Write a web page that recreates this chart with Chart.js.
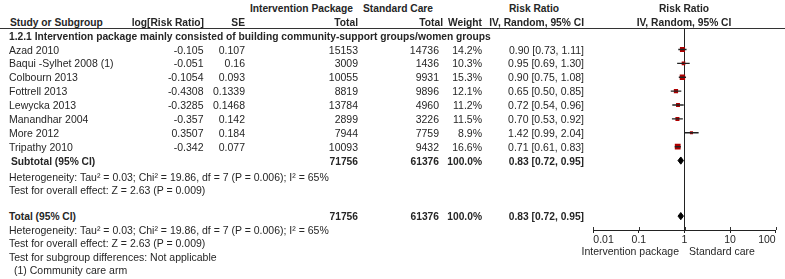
<!DOCTYPE html>
<html>
<head>
<meta charset="utf-8">
<script src="https://cdn.jsdelivr.net/npm/chart.js@4.4.0/dist/chart.umd.min.js"></script>
<style>
body{margin:0;background:#fff;}
#wrap{position:relative;width:785px;height:279px;overflow:hidden;font-family:"Liberation Sans",Arial,sans-serif;font-size:10.5px;color:#262626;background:#fff;}
.t{position:absolute;white-space:nowrap;line-height:13px;}
.b{font-weight:bold;font-size:10.25px;}
#rule{position:absolute;left:0;top:28px;width:785px;height:1px;background:#333;}
#plot{position:absolute;left:580px;top:0;width:205px;height:279px;}
</style>
</head>
<body>
<div id="wrap">
<div id="rule"></div>
<div id="plot"><canvas id="forest"></canvas></div>
</div>
<script>

/* DATA */

let studies=["Azad 2010","Baqui -Sylhet 2008 (1)","Colbourn 2013","Fottrell 2013","Lewycka 2013","Manandhar 2004","More 2012","Tripathy 2010"];
let logRR=["-0.105","-0.051","-0.1054","-0.4308","-0.3285","-0.357","0.3507","-0.342"];
let se=["0.107","0.16","0.093","0.1339","0.1468","0.142","0.184","0.077"];
let interventionTotal=[15153,3009,10055,8819,13784,2899,7944,10093];
let standardTotal=[14736,1436,9931,9896,4960,3226,7759,9432];
let weight=[14.2,10.3,15.3,12.1,11.2,11.5,8.9,16.6];
let rr=[0.90,0.95,0.90,0.65,0.72,0.70,1.42,0.71];
let ciLow=[0.73,0.69,0.75,0.50,0.54,0.53,0.99,0.61];
let ciHigh=[1.11,1.30,1.08,0.85,0.96,0.92,2.04,0.83];

let pooledRR=0.83;
let pooledLow=0.72;
let pooledHigh=0.95;
let pooledInterventionTotal=71756;
let pooledStandardTotal=61376;
let pooledWeight=100.0;

let tickValues=[0.01,0.1,1,10,100];
let tickLabels=["0.01","0.1","1","10","100"];

let subgroupTitle="1.2.1 Intervention package mainly consisted of building community-support groups/women groups";
let heterogeneity="Heterogeneity: Tau\u00b2 = 0.03; Chi\u00b2 = 19.86, df = 7 (P = 0.006); I\u00b2 = 65%";
let overallEffect="Test for overall effect: Z = 2.63 (P = 0.009)";
let subgroupDiff="Test for subgroup differences: Not applicable";
let footnote="(1) Community care arm";
let favoursLeft="Intervention package";
let favoursRight="Standard care";

/* TEXT */

const wrap=document.getElementById("wrap");

function addText(str,x,y,align,bold){
let d=document.createElement("div");
d.className="t"+(bold?" b":"");
d.textContent=str;
d.style.top=(y-6)+"px";
if(align==="left") d.style.left=x+"px";
else if(align==="right") d.style.right=(785-x)+"px";
else{ d.style.left=x+"px"; d.style.transform="translateX(-50%)"; }
wrap.appendChild(d);
}

function ci(v,l,h){ return v.toFixed(2)+" ["+l.toFixed(2)+", "+h.toFixed(2)+"]"; }

let rowY=i=>49.5+13.886*i;

// header
addText("Intervention Package",353,8,"right",true);
addText("Standard Care",363,8,"left",true);
addText("Risk Ratio",534,8,"center",true);
addText("Risk Ratio",684,8,"center",true);
addText("Study or Subgroup",10,22,"left",true);
addText("log[Risk Ratio]",204,22,"right",true);
addText("SE",245,22,"right",true);
addText("Total",358,22,"right",true);
addText("Total",443,22,"right",true);
addText("Weight",482,22,"right",true);
addText("IV, Random, 95% CI",584,22,"right",true);
addText("IV, Random, 95% CI",684,22,"center",true);
addText(subgroupTitle,9,36,"left",true);

// study rows
studies.forEach((s,i)=>{
let y=rowY(i);
addText(s,9,y,"left");
addText(logRR[i],203.5,y,"right");
addText(se[i],245,y,"right");
addText(String(interventionTotal[i]),358,y,"right");
addText(String(standardTotal[i]),439,y,"right");
addText(weight[i].toFixed(1)+"%",482,y,"right");
addText(ci(rr[i],ciLow[i],ciHigh[i]),584,y,"right");
});

// subtotal + total
function pooledRow(label,y,x0){
addText(label,x0,y,"left",true);
addText(String(pooledInterventionTotal),358,y,"right",true);
addText(String(pooledStandardTotal),439,y,"right",true);
addText(pooledWeight.toFixed(1)+"%",482,y,"right",true);
addText(ci(pooledRR,pooledLow,pooledHigh),584,y,"right",true);
}

pooledRow("Subtotal (95% CI)",rowY(studies.length),11);
addText(heterogeneity,9,176.7,"left");
addText(overallEffect,9,190,"left");
pooledRow("Total (95% CI)",rowY(studies.length+4),9);
addText(heterogeneity,9,229.5,"left");
addText(overallEffect,9,243,"left");
addText(subgroupDiff,9,256.5,"left");
addText(footnote,14,269.5,"left");

addText(favoursLeft,679,251,"right");
addText(favoursRight,689,251,"left");

/* DATASETS */

let datasets=[];

studies.forEach((s,i)=>{
datasets.push({
type:"line",
data:[{x:ciLow[i],y:i},{x:ciHigh[i],y:i}],
borderColor:"#222",
borderWidth:1.4,
pointRadius:0,
fill:false
});
});

datasets.push({
type:"scatter",
data:rr.map((v,i)=>({x:v,y:i})),
pointStyle:"rect",
pointRadius:weight.map(w=>w*0.35/Math.SQRT2),
backgroundColor:"#b00000",
borderColor:"#b00000",
borderWidth:0
});

function diamond(row){
datasets.push({
type:"line",
data:[{x:pooledLow,y:row},{x:pooledRR,y:row-0.26},{x:pooledHigh,y:row}],
borderColor:"#000",
backgroundColor:"#000",
borderWidth:1,
pointRadius:0,
fill:"+1"
});
datasets.push({
type:"line",
data:[{x:pooledLow,y:row},{x:pooledRR,y:row+0.26},{x:pooledHigh,y:row}],
borderColor:"#000",
borderWidth:1,
pointRadius:0,
fill:false
});
}

diamond(studies.length);
diamond(studies.length+4);

/* UP TICKS */

const upTicks={
id:"upTicks",
afterDraw(chart){
let s=chart.scales.x, ctx=chart.ctx;
ctx.save();
ctx.strokeStyle="#333";
ctx.lineWidth=1;
s.ticks.forEach(t=>{
let px=Math.round(s.getPixelForValue(t.value))+0.5;
ctx.beginPath();
ctx.moveTo(px,s.top);
ctx.lineTo(px,s.top-3);
ctx.stroke();
});
ctx.restore();
}
};

/* GRAPH */

new Chart(document.getElementById("forest"),{

type:"scatter",

data:{datasets:datasets},

options:{
responsive:true,
maintainAspectRatio:false,
animation:false,
events:[],
layout:{padding:{left:13.3,right:9.3,top:29,bottom:0}},

plugins:{
legend:{display:false},
tooltip:{enabled:false}
},

scales:{
x:{
type:"logarithmic",
min:0.01,
max:100,
afterBuildTicks:s=>{ s.ticks=tickValues.map(v=>({value:v})); },
afterFit:s=>{ s.height=49; },
ticks:{
callback:(v,i)=>tickLabels[i],
align:"inner",
maxRotation:0,
autoSkip:false,
padding:1,
color:"#262626",
font:{family:"Liberation Sans",size:10.5}
},
grid:{
color:c=>(c.tick && c.tick.value===1)?"#222":"rgba(0,0,0,0)",
tickColor:"#222",
tickLength:3
},
border:{display:true,color:"#222",width:1}
},

y:{
type:"linear",
reverse:true,
min:-1.476,
max:13.0,
display:false
}
}

},

plugins:[upTicks]

});

</script>
</body>
</html>
